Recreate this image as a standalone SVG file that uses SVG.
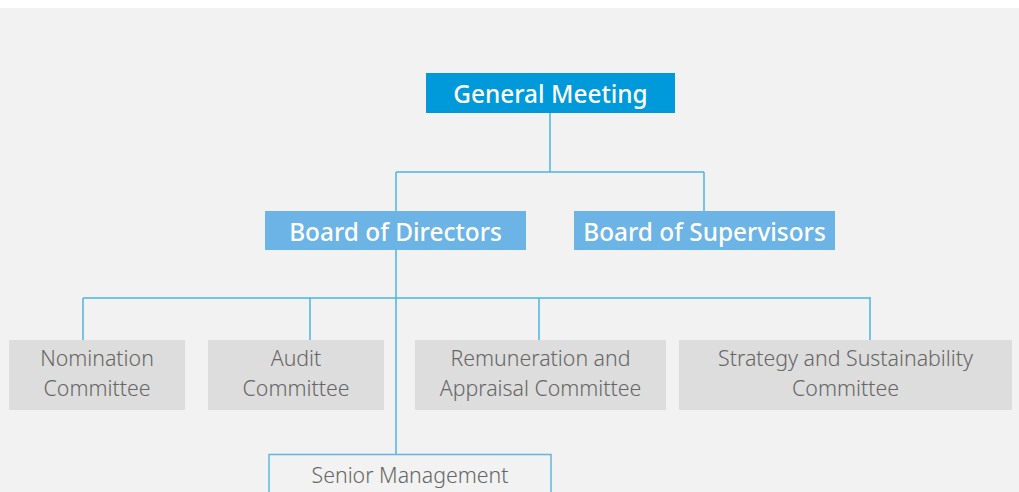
<svg xmlns="http://www.w3.org/2000/svg" width="1019" height="492" viewBox="0 0 1019 492">
<style>
.bg{fill:#f1f2f1}
.top{fill:#0099da}
.mid{fill:#6cb4e5}
.com{fill:#dcdddc}
.sen{fill:#f1f2f1;stroke:#5bb9e6;stroke-width:1.5}
.tw{font-family:"Noto Sans","Open Sans",sans-serif;font-size:24.4px;font-weight:500;fill:#ffffff;text-anchor:middle}
.tg{font-family:"Noto Sans","Open Sans",sans-serif;font-size:21.3px;font-weight:300;fill:#666666;text-anchor:middle}
.ln{fill:none;stroke:#4bb4e6;stroke-width:1.5}
</style>
<rect x="0" y="0" width="1019" height="492" fill="#ffffff"/>
<rect class="bg" x="0" y="8" width="1019" height="484"/>
<g id="connectors">
<path class="ln" d="M550,113 V172 M396,172 H704 M396,172 V211 M704,172 V211"/>
<path class="ln" d="M396,250 V454 M83,298 H870 M83,298 V340 M310,298 V340 M539,298 V340 M870,297 V340"/>
</g>
<g id="general-meeting">
<rect class="top" x="426" y="73" width="249" height="40"/>
<text class="tw" x="550.5" y="103">General Meeting</text>
</g>
<g id="board-of-directors">
<rect class="mid" x="265" y="211" width="261" height="39"/>
<text class="tw" x="395.5" y="241">Board of Directors</text>
</g>
<g id="board-of-supervisors">
<rect class="mid" x="574" y="211" width="261" height="39"/>
<text class="tw" x="704.5" y="241">Board of Supervisors</text>
</g>
<g id="nomination-committee">
<rect class="com" x="9" y="340" width="176" height="70"/>
<text class="tg" x="97" y="366">Nomination</text>
<text class="tg" x="97" y="396">Committee</text>
</g>
<g id="audit-committee">
<rect class="com" x="208" y="340" width="176" height="70"/>
<text class="tg" x="296" y="366">Audit</text>
<text class="tg" x="296" y="396">Committee</text>
</g>
<g id="remuneration-committee">
<rect class="com" x="415" y="340" width="251" height="70"/>
<text class="tg" x="540.5" y="366">Remuneration and</text>
<text class="tg" x="540.5" y="396">Appraisal Committee</text>
</g>
<g id="strategy-committee">
<rect class="com" x="679" y="340" width="333" height="70"/>
<text class="tg" x="845.5" y="366">Strategy and Sustainability</text>
<text class="tg" x="845.5" y="396">Committee</text>
</g>
<g id="senior-management">
<rect class="sen" x="269" y="454.5" width="282" height="50"/>
<text class="tg" x="410" y="483">Senior Management</text>
</g>
</svg>
